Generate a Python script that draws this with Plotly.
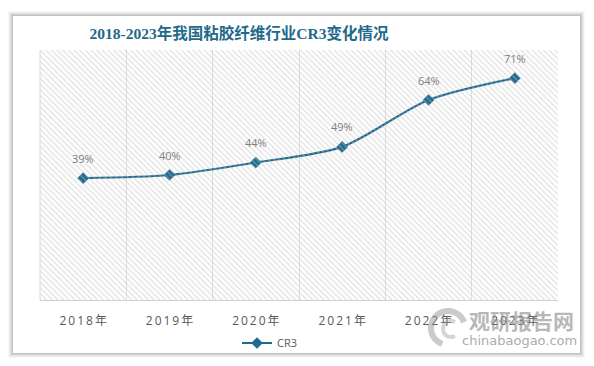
import math
import plotly.graph_objects as go

years = ["2018年", "2019年", "2020年", "2021年", "2022年", "2023年"]
cr3 = [39, 40, 44, 49, 64, 71]
labels = ["39%", "40%", "44%", "49%", "64%", "71%"]

W, H = 594, 366
OFF = 8  # page body margin offset
L, R, T, B = 40, 558, 50, 300

def px(x):
    return (x - L) / (R - L)

def py(y):
    return (B - y) / (B - T)

def spaced(s):
    return "\u2009".join(list(s))

def arc_path(cx, cy, r, a0, a1, n=30):
    pts = []
    for i in range(n + 1):
        a = math.radians(a0 + (a1 - a0) * i / n)
        pts.append((px(cx + r * math.cos(a)), py(cy - r * math.sin(a))))
    return "M " + " L ".join(f"{x:.4f},{y:.4f}" for x, y in pts)

fig = go.Figure()

# hatched plot background
fig.add_trace(go.Scatter(
    x=[0, 1, 1, 0, 0], y=[0, 0, 1, 1, 0], xaxis="x2", yaxis="y2",
    mode="none", fill="toself", fillcolor="rgba(0,0,0,0)",
    fillpattern=dict(shape="\\", fgcolor="#c0c0c0", bgcolor="rgba(0,0,0,0)", size=4, solidity=0.3),
    showlegend=False, hoverinfo="skip"))

fig.add_trace(go.Scatter(
    x=years, y=cr3, name="CR3", mode="lines+markers",
    line=dict(color="#1f6a8f", width=2.2, shape="spline", smoothing=0.8),
    marker=dict(symbol="diamond", size=9, color="#1f6a8f"),
    cliponaxis=False))

annotations = [
    dict(x=yv, y=v, xref="x", yref="y", text=t, showarrow=False, yshift=20,
         font=dict(color="#808080", size=11, family="Open Sans, Noto Sans CJK SC"))
    for yv, v, t in zip(years, cr3, labels)
]
annotations += [
    dict(text="<b>观研报告网</b>", xref="paper", yref="paper", x=px(521), y=py(320),
         xanchor="center", yanchor="middle",
         showarrow=False, font=dict(size=21, color="#8a8a8a", family="Noto Sans CJK SC"),
         opacity=0.6),
    dict(text="chinabaogao.com", xref="paper", yref="paper", x=px(519), y=py(340),
         xanchor="center", yanchor="middle",
         showarrow=False, font=dict(size=13, color="#8a8a8a", family="DejaVu Sans"),
         opacity=0.7),
]

shapes = []
# card shadow
for i, op in enumerate([0.03, 0.04, 0.05, 0.06, 0.08]):
    d = 5 - i
    shapes.append(dict(type="rect", xref="paper", yref="paper", layer="below",
                       x0=px(13 - d), x1=px(580 + d), y0=py(353 + d), y1=py(16 - d),
                       line=dict(width=0), fillcolor=f"rgba(0,0,0,{op})"))
shapes.append(dict(type="rect", xref="paper", yref="paper", layer="below",
                   x0=px(13), x1=px(580), y0=py(353), y1=py(16),
                   line=dict(width=0), fillcolor="white"))
# watermark logo (approximate swirl)
shapes.append(dict(type="path", xref="paper", yref="paper", layer="above",
                   path=arc_path(448, 328, 17, 20, 250),
                   line=dict(color="rgba(150,150,150,0.5)", width=6)))
shapes.append(dict(type="path", xref="paper", yref="paper", layer="above",
                   path=arc_path(451, 329, 8, 60, 300),
                   line=dict(color="rgba(150,150,150,0.4)", width=4)))
# left axis line
shapes.append(dict(type="line", xref="paper", yref="paper", x0=0, x1=0, y0=0, y1=1,
                   line=dict(color="#d8d8d8", width=1)))

fig.update_layout(
    width=W, height=H,
    margin=dict(l=L - OFF, r=W - R + OFF, t=T - OFF, b=H - B + OFF),
    paper_bgcolor="white", plot_bgcolor="rgba(0,0,0,0)",
    shapes=shapes,
    annotations=annotations,
    title=dict(text="<b>2018-2023年我国粘胶纤维行业CR3变化情况</b>",
               x=(239 - OFF) / W, xanchor="center", y=1 - (34 - OFF) / H, yanchor="middle",
               font=dict(size=15.5, color="#1f6a8a", family="Liberation Serif, Noto Sans CJK SC")),
    xaxis=dict(type="category", range=[-0.5, 5.5], tickson="boundaries",
               tickvals=years, ticktext=[spaced(y) for y in years],
               showgrid=True, gridcolor="#e0e0e0", gridwidth=1,
               showline=True, linecolor="#d0d0d0", linewidth=1,
               ticks="", ticklabelstandoff=10,
               tickfont=dict(size=12, color="#595959", family="Open Sans, Noto Sans CJK SC"),
               fixedrange=True),
    yaxis=dict(range=[0, 80], visible=False, showgrid=False, zeroline=False),
    xaxis2=dict(range=[0, 1], overlaying="x", visible=False),
    yaxis2=dict(range=[0, 1], overlaying="y", visible=False),
    showlegend=True,
    legend=dict(orientation="h", x=px(270), xanchor="center", y=py(343), yanchor="middle",
                font=dict(size=11, color="#595959", family="Open Sans"),
                bgcolor="rgba(0,0,0,0)"),
)

fig.write_html("out.html")
